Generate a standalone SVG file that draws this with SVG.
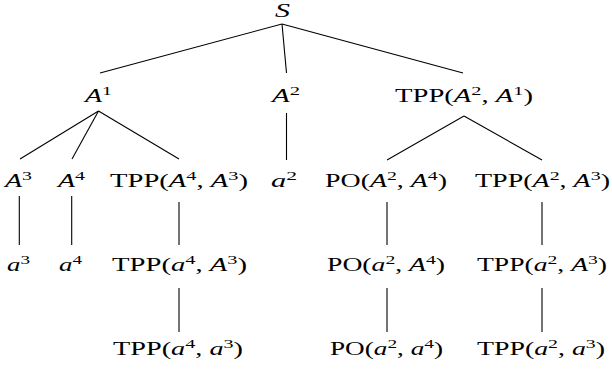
<svg xmlns="http://www.w3.org/2000/svg" width="612" height="372" viewBox="0 0 612 372">
<style>
text{font-family:"Liberation Serif","Times New Roman",serif;font-size:19px;fill:#000}
.i{font-style:italic}
.s{font-size:13.5px}
#edges line{stroke:#000;stroke-width:1.1}
</style>
<rect width="612" height="372" fill="#fff"/>
<g id="edges">
<line x1="282" y1="24" x2="100" y2="73"/>
<line x1="282" y1="24" x2="286.5" y2="73"/>
<line x1="282" y1="24" x2="463" y2="73"/>
<line x1="98.5" y1="111" x2="20" y2="159"/>
<line x1="98.5" y1="111" x2="72" y2="159"/>
<line x1="98.5" y1="111" x2="179" y2="159"/>
<line x1="286.5" y1="113" x2="286.5" y2="160"/>
<line x1="464" y1="116" x2="387" y2="160"/>
<line x1="464" y1="116" x2="542" y2="160"/>
<line x1="19.3" y1="196" x2="19.3" y2="245"/>
<line x1="71.7" y1="196" x2="71.7" y2="245"/>
<line x1="179" y1="202" x2="179" y2="245"/>
<line x1="387" y1="202" x2="387" y2="245"/>
<line x1="542" y1="202" x2="542" y2="245"/>
<line x1="179" y1="288" x2="179" y2="332"/>
<line x1="387" y1="288" x2="387" y2="332"/>
<line x1="542" y1="288" x2="542" y2="332"/>
</g>
<g id="n-S"><text x="275" y="17" textLength="15" lengthAdjust="spacingAndGlyphs" class="i">S</text></g>
<g id="n-A1"><text x="85" y="102" textLength="27" lengthAdjust="spacingAndGlyphs"><tspan class="i">A</tspan><tspan class="s" dy="-7">1</tspan></text></g>
<g id="n-A2"><text x="272" y="102" textLength="28" lengthAdjust="spacingAndGlyphs"><tspan class="i">A</tspan><tspan class="s" dy="-7">2</tspan></text></g>
<g id="n-TPPA2A1"><text x="395" y="102" textLength="138" lengthAdjust="spacingAndGlyphs">TPP(<tspan class="i">A</tspan><tspan class="s" dy="-7">2</tspan><tspan dy="7">, </tspan><tspan class="i">A</tspan><tspan class="s" dy="-7">1</tspan><tspan dy="7">)</tspan></text></g>
<g id="n-A3"><text x="5" y="187" textLength="27" lengthAdjust="spacingAndGlyphs"><tspan class="i">A</tspan><tspan class="s" dy="-7">3</tspan></text></g>
<g id="n-A4"><text x="58" y="187" textLength="27" lengthAdjust="spacingAndGlyphs"><tspan class="i">A</tspan><tspan class="s" dy="-7">4</tspan></text></g>
<g id="n-TPPA4A3"><text x="110" y="187" textLength="138" lengthAdjust="spacingAndGlyphs">TPP(<tspan class="i">A</tspan><tspan class="s" dy="-7">4</tspan><tspan dy="7">, </tspan><tspan class="i">A</tspan><tspan class="s" dy="-7">3</tspan><tspan dy="7">)</tspan></text></g>
<g id="n-a2"><text x="271" y="187" textLength="26" lengthAdjust="spacingAndGlyphs"><tspan class="i">a</tspan><tspan class="s" dy="-7">2</tspan></text></g>
<g id="n-POA2A4"><text x="325" y="187" textLength="122" lengthAdjust="spacingAndGlyphs">PO(<tspan class="i">A</tspan><tspan class="s" dy="-7">2</tspan><tspan dy="7">, </tspan><tspan class="i">A</tspan><tspan class="s" dy="-7">4</tspan><tspan dy="7">)</tspan></text></g>
<g id="n-TPPA2A3"><text x="475" y="187" textLength="135" lengthAdjust="spacingAndGlyphs">TPP(<tspan class="i">A</tspan><tspan class="s" dy="-7">2</tspan><tspan dy="7">, </tspan><tspan class="i">A</tspan><tspan class="s" dy="-7">3</tspan><tspan dy="7">)</tspan></text></g>
<g id="n-a3"><text x="7" y="271" textLength="23" lengthAdjust="spacingAndGlyphs"><tspan class="i">a</tspan><tspan class="s" dy="-7">3</tspan></text></g>
<g id="n-a4"><text x="59" y="271" textLength="23" lengthAdjust="spacingAndGlyphs"><tspan class="i">a</tspan><tspan class="s" dy="-7">4</tspan></text></g>
<g id="n-TPPa4A3"><text x="112" y="271" textLength="135" lengthAdjust="spacingAndGlyphs">TPP(<tspan class="i">a</tspan><tspan class="s" dy="-7">4</tspan><tspan dy="7">, </tspan><tspan class="i">A</tspan><tspan class="s" dy="-7">3</tspan><tspan dy="7">)</tspan></text></g>
<g id="n-POa2A4"><text x="327" y="271" textLength="118" lengthAdjust="spacingAndGlyphs">PO(<tspan class="i">a</tspan><tspan class="s" dy="-7">2</tspan><tspan dy="7">, </tspan><tspan class="i">A</tspan><tspan class="s" dy="-7">4</tspan><tspan dy="7">)</tspan></text></g>
<g id="n-TPPa2A3"><text x="477" y="271" textLength="130" lengthAdjust="spacingAndGlyphs">TPP(<tspan class="i">a</tspan><tspan class="s" dy="-7">2</tspan><tspan dy="7">, </tspan><tspan class="i">A</tspan><tspan class="s" dy="-7">3</tspan><tspan dy="7">)</tspan></text></g>
<g id="n-TPPa4a3"><text x="113" y="355" textLength="130" lengthAdjust="spacingAndGlyphs">TPP(<tspan class="i">a</tspan><tspan class="s" dy="-7">4</tspan><tspan dy="7">, </tspan><tspan class="i">a</tspan><tspan class="s" dy="-7">3</tspan><tspan dy="7">)</tspan></text></g>
<g id="n-POa2a4"><text x="330" y="355" textLength="113" lengthAdjust="spacingAndGlyphs">PO(<tspan class="i">a</tspan><tspan class="s" dy="-7">2</tspan><tspan dy="7">, </tspan><tspan class="i">a</tspan><tspan class="s" dy="-7">4</tspan><tspan dy="7">)</tspan></text></g>
<g id="n-TPPa2a3"><text x="477" y="355" textLength="128" lengthAdjust="spacingAndGlyphs">TPP(<tspan class="i">a</tspan><tspan class="s" dy="-7">2</tspan><tspan dy="7">, </tspan><tspan class="i">a</tspan><tspan class="s" dy="-7">3</tspan><tspan dy="7">)</tspan></text></g>
</svg>
